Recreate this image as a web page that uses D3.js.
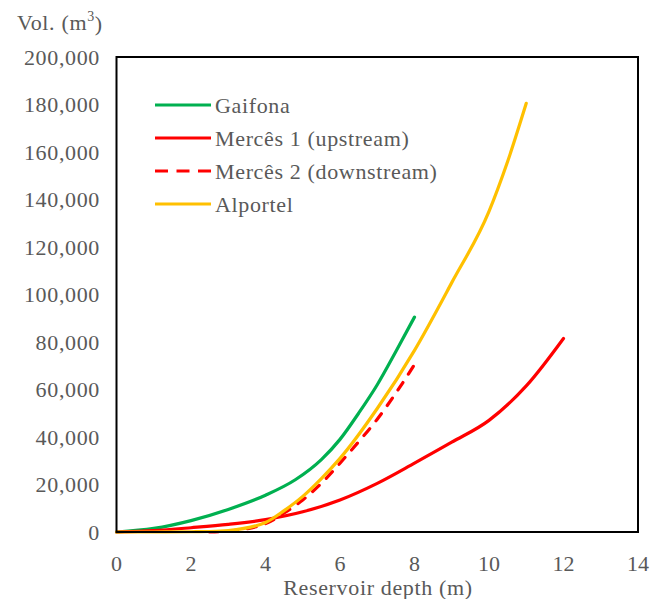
<!DOCTYPE html>
<html><head><meta charset="utf-8">
<script src="https://cdn.jsdelivr.net/npm/d3@7"></script>
<style>body{margin:0;background:#fff}svg{display:block}</style>
</head><body>
<svg id="c" width="650" height="599"></svg>
<script>
const xTicks = [0,2,4,6,8,10,12,14];
const yTicks = [0,20000,40000,60000,80000,100000,120000,140000,160000,180000,200000];
const seriesNames = ["Gaifona","Mercês 1 (upstream)","Mercês 2 (downstream)","Alportel"];
const gaifonaDepth = [0,1,2,3,4,4.8,5.5,6,6.5,7,7.5,8];
const gaifonaVol   = [0,1500,4800,9500,15500,22000,30500,39000,50000,62000,76000,90500];
const merces1Depth = [0,1,2,3,4,5,6,7,8,9,10,11,12];
const merces1Vol   = [0,600,1800,3200,5200,8500,13500,20500,29000,37800,47000,61500,81500];
const merces2Depth = [2.5,3,4,4.5,5,5.5,6,6.5,7,7.5,8];
const merces2Vol   = [0,400,3500,8000,13500,20500,29000,38000,47500,58500,70500];
const alportelDepth = [0,1,2,2.5,3,4,4.5,5,5.5,6,7,8,9,10,10.5,11];
const alportelVol   = [0,0,100,200,600,4000,9000,15000,22500,31000,52000,76500,105000,135000,156000,180500];

const svg = d3.select("#c");
const font = "'Liberation Serif','Times New Roman',serif";
const txt = "#595959";
const fs = 22, ls = 0.65;
const L=116.5, R=638, T=57, B=532;
const x = d3.scaleLinear().domain([0,14]).range([L,R]);
const y = d3.scaleLinear().domain([0,200000]).range([B,T]);

svg.append("g").selectAll("text").data(yTicks).join("text")
  .attr("x",100).attr("y",d=>y(d)).attr("dy","0.35em")
  .attr("text-anchor","end").attr("font-family",font).attr("font-size",fs)
  .attr("letter-spacing",ls).attr("fill",txt)
  .text(d=>d3.format(",")(d));
svg.append("g").selectAll("text").data(xTicks).join("text")
  .attr("x",d=>x(d)).attr("y",563).attr("dy","0.35em")
  .attr("text-anchor","middle").attr("font-family",font).attr("font-size",fs).attr("fill",txt)
  .text(d=>d);
svg.append("text").attr("x",378).attr("y",587).attr("dy","0.35em").attr("text-anchor","middle")
  .attr("font-family",font).attr("font-size",fs).attr("letter-spacing",ls).attr("fill",txt).text("Reservoir depth (m)");
const vt = svg.append("text").attr("x",17).attr("y",22).attr("dy","0.35em")
  .attr("font-family",font).attr("font-size",fs).attr("letter-spacing",ls).attr("fill",txt);
vt.append("tspan").text("Vol. (m");
vt.append("tspan").attr("font-size",14).attr("dy","-0.6em").text("3");
vt.append("tspan").attr("dy","0.45em").text(")");

const line = d3.line().x(d=>x(d[0])).y(d=>y(d[1])).curve(d3.curveMonotoneX);
const zip = (a,b)=>a.map((v,i)=>[v,b[i]]);
const series = [
  {name:seriesNames[0], data:zip(gaifonaDepth,gaifonaVol), color:"#00B050", dash:null},
  {name:seriesNames[1], data:zip(merces1Depth,merces1Vol), color:"#FF0000", dash:null},
  {name:seriesNames[2], data:zip(merces2Depth,merces2Vol), color:"#FF0000", dash:"9,10"},
  {name:seriesNames[3], data:zip(alportelDepth,alportelVol), color:"#FFC000", dash:null}
];
series.forEach(s=>{
  svg.append("path").attr("d",line(s.data)).attr("fill","none").attr("stroke",s.color)
    .attr("stroke-width",3.2).attr("stroke-linecap","round")
    .attr("stroke-dasharray",s.dash);
});
svg.append("rect").attr("x",L).attr("y",T).attr("width",R-L).attr("height",B-T)
  .attr("fill","none").attr("stroke","#000").attr("stroke-width",2);

const lg = svg.append("g");
series.forEach((s,i)=>{
  const yy = 105 + i*33;
  lg.append("line").attr("x1",155).attr("x2",211).attr("y1",yy).attr("y2",yy)
    .attr("stroke",s.color).attr("stroke-width",3.2).attr("stroke-dasharray",s.dash?"13,8.5":null);
  lg.append("text").attr("x",215).attr("y",yy).attr("dy","0.35em")
    .attr("font-family",font).attr("font-size",fs).attr("letter-spacing",ls).attr("fill",txt).text(s.name);
});
</script>
</body></html>
